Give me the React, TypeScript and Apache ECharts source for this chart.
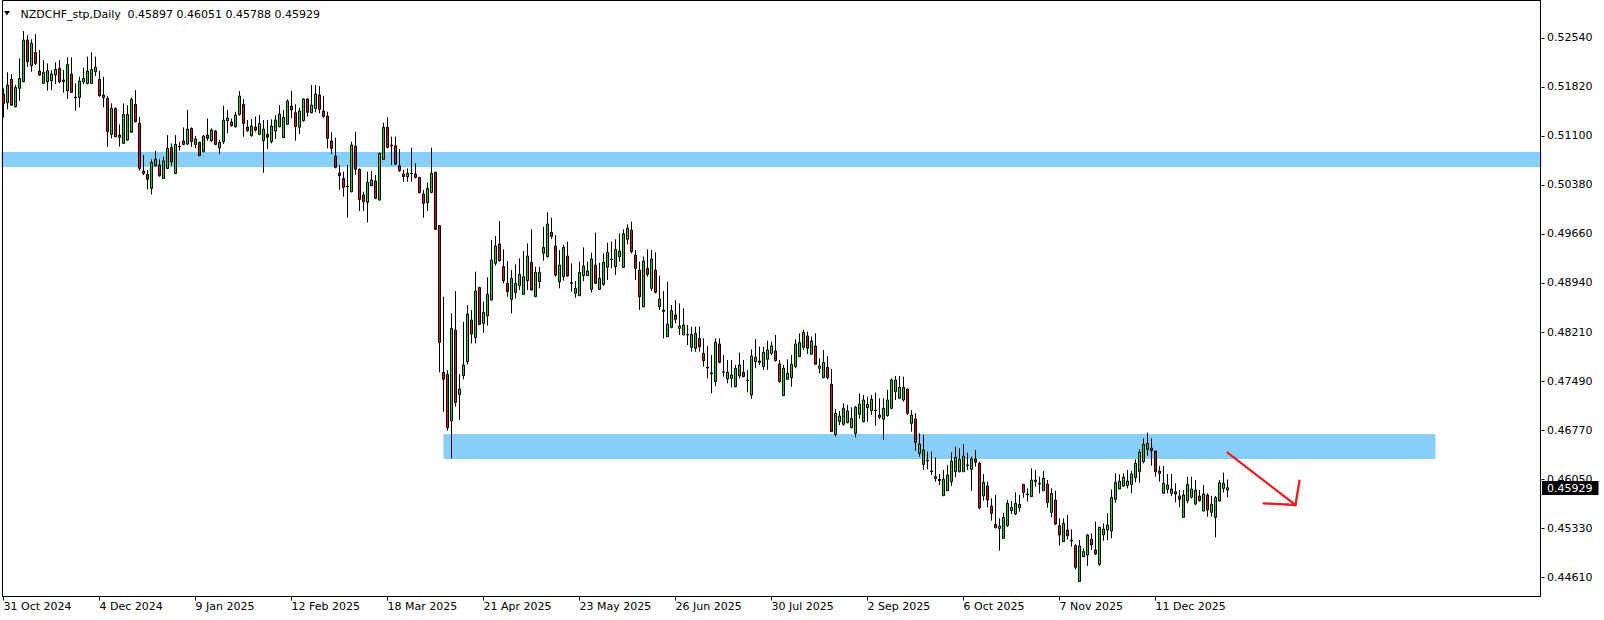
import React, { useEffect, useRef } from "react";
import * as echarts from "echarts";

// ---- Data ----
const opens = [
  0.51715,0.51588,0.51931,0.51529,0.51798,0.51896,0.52509,0.52132,0.52328,0.52053,
  0.51872,0.51896,0.51911,0.51994,0.52092,0.51921,0.51764,0.52009,0.51671,0.51666,
  0.51892,0.51872,0.51872,0.52043,0.51931,0.51700,0.51651,0.51122,0.51504,0.51112,
  0.50990,0.51039,0.51152,0.51563,0.51284,0.50583,0.50534,0.50328,0.50662,0.50671,
  0.50475,0.50622,0.50931,0.50549,0.50951,0.51024,0.50980,0.51210,0.50975,0.51005,
  0.50867,0.51112,0.51029,0.51171,0.50926,0.51014,0.51323,0.51304,0.51235,0.51416,
  0.51563,0.51230,0.51103,0.51230,0.51122,0.51030,0.51123,0.51015,0.51172,0.51235,
  0.51074,0.51270,0.51539,0.51441,0.51226,0.51324,0.51642,0.51441,0.51505,0.51701,
  0.51466,0.51392,0.51025,0.50804,0.50554,0.50476,0.50363,0.50280,0.50951,0.50608,
  0.50231,0.50123,0.50368,0.50437,0.50158,0.50755,0.51226,0.50966,0.50956,0.50662,
  0.50540,0.50500,0.50545,0.50540,0.50491,0.50246,0.50118,0.50270,0.50564,0.49781,
  0.47625,0.47595,0.46914,0.48247,0.47301,0.47576,0.47781,0.48394,0.48139,0.48874,
  0.48345,0.48453,0.48688,0.49227,0.49511,0.49178,0.48933,0.48698,0.48801,0.48899,
  0.48772,0.48972,0.49242,0.48737,0.48958,0.49374,0.49325,0.49683,0.49482,0.48958,
  0.49031,0.49335,0.48943,0.48786,0.48752,0.49046,0.49046,0.48845,0.49203,0.48845,
  0.48918,0.49168,0.49291,0.49178,0.49325,0.49168,0.49580,0.49717,0.49350,0.49129,
  0.48590,0.49154,0.48860,0.49129,0.48590,0.48541,0.48149,0.48286,0.48468,0.48272,
  0.48174,0.48183,0.47992,0.47978,0.48124,0.47905,0.47699,0.47616,0.47489,0.48042,
  0.47635,0.47528,0.47538,0.47415,0.47572,0.47626,0.47513,0.47293,0.47782,0.47792,
  0.47709,0.47817,0.47905,0.47939,0.47748,0.47283,0.47523,0.47547,0.47709,0.47856,
  0.47993,0.48160,0.47890,0.48013,0.47685,0.47547,0.47699,0.47449,0.46714,0.46900,
  0.46861,0.46886,0.46812,0.46729,0.47008,0.46900,0.47106,0.47062,0.47072,0.46998,
  0.46935,0.46989,0.47097,0.47341,0.47244,0.47219,0.47376,0.46876,0.46940,0.46435,
  0.46273,0.46332,0.46175,0.46092,0.46053,0.45813,0.45886,0.46019,0.46165,0.46165,
  0.46165,0.46264,0.46200,0.46352,0.46288,0.45808,0.45955,0.45661,0.45391,0.45332,
  0.45185,0.45372,0.45592,0.45543,0.45636,0.45979,0.45837,0.45798,0.46043,0.45994,
  0.45886,0.45984,0.45568,0.45749,0.45372,0.45137,0.45308,0.45161,0.45080,0.44550,
  0.44916,0.44941,0.45172,0.45015,0.44804,0.45235,0.45308,0.45293,0.45759,0.45911,
  0.45955,0.45960,0.45979,0.46077,0.46165,0.46313,0.46494,0.46513,0.46469,0.46141,
  0.45847,0.45906,0.45847,0.45872,0.45808,0.45494,0.45739,0.45788,0.45690,0.45808,
  0.45587,0.45822,0.45568,0.45494,0.45734,0.45920,0.45897,
];

const highs = [
  0.51798,0.52034,0.52009,0.51847,0.52239,0.52641,0.52582,0.52519,0.52597,0.52362,
  0.52215,0.52166,0.52068,0.52181,0.52215,0.52068,0.52254,0.52254,0.51872,0.51970,
  0.52107,0.52264,0.52328,0.52264,0.52058,0.51970,0.51686,0.51578,0.51519,0.51269,
  0.51578,0.51553,0.51666,0.51774,0.51382,0.50818,0.50598,0.50755,0.50877,0.50755,
  0.50794,0.51112,0.50990,0.51112,0.51014,0.51225,0.51480,0.51225,0.51098,0.51014,
  0.51112,0.51357,0.51210,0.51186,0.51039,0.51544,0.51480,0.51357,0.51455,0.51759,
  0.51642,0.51333,0.51348,0.51382,0.51406,0.51334,0.51334,0.51343,0.51407,0.51554,
  0.51481,0.51637,0.51765,0.51564,0.51515,0.51652,0.51652,0.51848,0.51848,0.51833,
  0.51686,0.51456,0.51152,0.51074,0.50672,0.50574,0.50672,0.51015,0.51162,0.50623,
  0.50280,0.50574,0.50584,0.50525,0.50853,0.51294,0.51373,0.51089,0.51089,0.50907,
  0.50599,0.50623,0.50927,0.50697,0.50495,0.50305,0.50412,0.50927,0.50574,0.49790,
  0.48737,0.47659,0.48492,0.48820,0.47600,0.48369,0.48614,0.48541,0.49104,0.48880,
  0.48664,0.49021,0.49570,0.49629,0.49849,0.49433,0.49261,0.49129,0.49212,0.49301,
  0.49408,0.49521,0.49727,0.49178,0.49178,0.49766,0.49977,0.49898,0.49643,0.49423,
  0.49497,0.49546,0.49227,0.48967,0.49252,0.49462,0.49252,0.49384,0.49678,0.49237,
  0.49374,0.49531,0.49546,0.49580,0.49668,0.49727,0.49800,0.49840,0.49423,0.49252,
  0.49325,0.49433,0.49423,0.49389,0.49046,0.48821,0.48958,0.48615,0.48688,0.48639,
  0.48566,0.48321,0.48296,0.48296,0.48296,0.48125,0.48013,0.47880,0.48125,0.48125,
  0.47880,0.47807,0.47807,0.47734,0.47915,0.47807,0.47660,0.47964,0.48111,0.48003,
  0.48003,0.48091,0.48076,0.48175,0.47807,0.47734,0.47817,0.47880,0.48111,0.48199,
  0.48248,0.48223,0.48150,0.48199,0.47832,0.47954,0.47866,0.47675,0.47087,0.47057,
  0.47170,0.47146,0.47111,0.47131,0.47317,0.47293,0.47268,0.47293,0.47327,0.47244,
  0.47244,0.47366,0.47538,0.47572,0.47572,0.47562,0.47391,0.47072,0.47023,0.46729,
  0.46705,0.46460,0.46460,0.46376,0.46131,0.46190,0.46264,0.46450,0.46533,0.46509,
  0.46572,0.46445,0.46386,0.46484,0.46313,0.46131,0.46019,0.45774,0.45823,0.45480,
  0.45563,0.45749,0.45734,0.45862,0.45823,0.45979,0.45920,0.46215,0.46190,0.46092,
  0.46175,0.46043,0.45920,0.45886,0.45480,0.45480,0.45529,0.45318,0.45098,0.45162,
  0.45039,0.45250,0.45259,0.45431,0.45357,0.45406,0.45553,0.45906,0.46141,0.46126,
  0.46141,0.46190,0.46175,0.46347,0.46494,0.46655,0.46739,0.46655,0.46474,0.46249,
  0.46249,0.46131,0.46131,0.45994,0.45896,0.45896,0.46092,0.46092,0.46043,0.45896,
  0.45970,0.45847,0.45808,0.45808,0.46043,0.46151,0.46051,
];

const lows = [
  0.51367,0.51490,0.51539,0.51519,0.51617,0.51890,0.52117,0.52043,0.52141,0.51985,
  0.51862,0.51764,0.51774,0.51862,0.51872,0.51735,0.51642,0.51735,0.51470,0.51519,
  0.51862,0.51857,0.51862,0.51980,0.51676,0.51519,0.50941,0.51063,0.51078,0.50941,
  0.50980,0.51029,0.51147,0.51299,0.50588,0.50524,0.50314,0.50240,0.50647,0.50500,
  0.50466,0.50613,0.50662,0.50539,0.50882,0.50965,0.50965,0.50941,0.50916,0.50804,
  0.50858,0.51029,0.51014,0.50965,0.50833,0.50980,0.51137,0.51235,0.51220,0.51397,
  0.51088,0.51161,0.51088,0.51161,0.51112,0.50559,0.50907,0.50990,0.51054,0.51226,
  0.51069,0.51260,0.51358,0.51030,0.51128,0.51309,0.51383,0.51432,0.51446,0.51432,
  0.51368,0.50917,0.50834,0.50623,0.50305,0.50207,0.49898,0.50270,0.50525,0.49996,
  0.49996,0.49829,0.50363,0.50172,0.50148,0.50746,0.50917,0.50672,0.50672,0.50574,
  0.50427,0.50427,0.50427,0.50476,0.50256,0.49898,0.49996,0.50256,0.49717,0.47625,
  0.47046,0.46767,0.46360,0.47120,0.46924,0.47522,0.47742,0.48051,0.48051,0.48320,
  0.48208,0.48311,0.48678,0.49193,0.49252,0.48933,0.48737,0.48492,0.48713,0.48835,
  0.48762,0.48835,0.48825,0.48737,0.48860,0.49266,0.49315,0.49585,0.49031,0.48860,
  0.48972,0.49031,0.48811,0.48722,0.48752,0.48967,0.49046,0.48801,0.48923,0.48835,
  0.48899,0.48982,0.49154,0.49056,0.49252,0.49168,0.49506,0.49374,0.48982,0.48541,
  0.48580,0.49031,0.48825,0.48786,0.48541,0.48124,0.48149,0.48272,0.48345,0.48174,
  0.48174,0.48027,0.47929,0.47929,0.47929,0.47709,0.47538,0.47317,0.47425,0.47758,
  0.47562,0.47464,0.47405,0.47405,0.47538,0.47552,0.47332,0.47234,0.47685,0.47734,
  0.47660,0.47660,0.47880,0.47783,0.47474,0.47283,0.47513,0.47415,0.47685,0.47856,
  0.47954,0.47895,0.47890,0.47743,0.47611,0.47538,0.47523,0.46754,0.46680,0.46851,
  0.46842,0.46876,0.46803,0.46670,0.46949,0.46891,0.46900,0.46998,0.46842,0.46939,
  0.46631,0.46974,0.47082,0.47219,0.47234,0.47194,0.46998,0.46754,0.46474,0.46386,
  0.46190,0.46200,0.46117,0.46019,0.45970,0.45813,0.45886,0.45955,0.46082,0.46156,
  0.46165,0.46190,0.45886,0.46239,0.45612,0.45739,0.45641,0.45445,0.45332,0.45004,
  0.45185,0.45357,0.45543,0.45528,0.45577,0.45783,0.45725,0.45798,0.45945,0.45847,
  0.45886,0.45636,0.45494,0.45382,0.45078,0.45137,0.45171,0.45063,0.44731,0.44550,
  0.44910,0.44780,0.45015,0.44942,0.44780,0.45151,0.45161,0.45186,0.45710,0.45911,
  0.45945,0.45920,0.45847,0.46009,0.46004,0.46288,0.46401,0.46254,0.46092,0.46019,
  0.45847,0.45847,0.45808,0.45715,0.45641,0.45494,0.45700,0.45773,0.45676,0.45725,
  0.45587,0.45504,0.45504,0.45200,0.45725,0.45857,0.45788,
];

const closes = [
  0.51578,0.51847,0.51553,0.51813,0.51945,0.52509,0.52190,0.52460,0.52166,0.51994,
  0.52034,0.52058,0.52009,0.52078,0.51896,0.51900,0.52151,0.51740,0.51661,0.51906,
  0.51945,0.52053,0.52078,0.52107,0.51691,0.51661,0.51161,0.51504,0.51088,0.51078,
  0.51416,0.51416,0.51637,0.51308,0.50622,0.50549,0.50461,0.50711,0.50755,0.50515,
  0.50730,0.50916,0.50720,0.50975,0.50941,0.50975,0.51201,0.51014,0.51054,0.50809,
  0.51098,0.51063,0.51186,0.50975,0.51005,0.51333,0.51362,0.51250,0.51406,0.51686,
  0.51284,0.51176,0.51245,0.51186,0.51284,0.51201,0.51079,0.51245,0.51334,0.51422,
  0.51373,0.51613,0.51481,0.51236,0.51466,0.51642,0.51446,0.51554,0.51716,0.51490,
  0.51383,0.51064,0.50917,0.50638,0.50515,0.50344,0.50354,0.50966,0.50608,0.50167,
  0.50133,0.50417,0.50452,0.50182,0.50844,0.51226,0.50932,0.50956,0.50687,0.50589,
  0.50500,0.50550,0.50550,0.50491,0.50265,0.50109,0.50329,0.50550,0.49727,0.48066,
  0.47522,0.46811,0.48272,0.47184,0.47380,0.47732,0.48482,0.48188,0.48820,0.48330,
  0.48507,0.48771,0.49276,0.49482,0.49266,0.48972,0.48811,0.49006,0.48933,0.49065,
  0.49031,0.49335,0.48835,0.49095,0.49095,0.49462,0.49805,0.49619,0.49055,0.49202,
  0.49462,0.49041,0.48933,0.48860,0.49095,0.49188,0.49114,0.49291,0.48933,0.49007,
  0.49242,0.49389,0.49281,0.49433,0.49408,0.49658,0.49742,0.49399,0.49154,0.48737,
  0.49261,0.49065,0.49291,0.48801,0.48703,0.48521,0.48335,0.48531,0.48404,0.48306,
  0.48321,0.48174,0.48183,0.48198,0.48002,0.47797,0.47689,0.47606,0.48067,0.47773,
  0.47626,0.47626,0.47587,0.47685,0.47734,0.47562,0.47503,0.47866,0.47846,0.47773,
  0.47920,0.47954,0.48013,0.47797,0.47489,0.47685,0.47611,0.47743,0.48042,0.48062,
  0.48214,0.47978,0.48086,0.47743,0.47719,0.47773,0.47547,0.46754,0.47023,0.46984,
  0.47097,0.47057,0.46950,0.47111,0.47156,0.47219,0.47156,0.47229,0.47062,0.46964,
  0.47097,0.47219,0.47513,0.47513,0.47405,0.47405,0.47023,0.46998,0.46597,0.46572,
  0.46484,0.46322,0.46165,0.46063,0.46033,0.46053,0.46117,0.46322,0.46376,0.46347,
  0.46396,0.46254,0.46352,0.46303,0.45636,0.46009,0.45749,0.45553,0.45342,0.45367,
  0.45494,0.45700,0.45641,0.45700,0.45685,0.45862,0.45827,0.46043,0.46019,0.45984,
  0.46068,0.45710,0.45847,0.45396,0.45234,0.45406,0.45225,0.45146,0.44760,0.45074,
  0.44990,0.45235,0.45089,0.44956,0.45347,0.45323,0.45382,0.45788,0.46009,0.46028,
  0.46082,0.46028,0.46131,0.46288,0.46450,0.46567,0.46582,0.46474,0.46165,0.46175,
  0.45994,0.45970,0.45911,0.45837,0.45759,0.45822,0.45979,0.45911,0.45896,0.45739,
  0.45837,0.45602,0.45685,0.45788,0.46004,0.45994,0.45929,
];

// date labels, one every 24 bars starting at bar 0
const dateLabels = [
  "31 Oct 2024", "4 Dec 2024", "9 Jan 2025", "12 Feb 2025", "18 Mar 2025",
  "21 Apr 2025", "23 May 2025", "26 Jun 2025", "30 Jul 2025", "2 Sep 2025",
  "6 Oct 2025", "7 Nov 2025", "11 Dec 2025",
];
const LABEL_EVERY = 24;

// price scale labels
const priceTicks = [
  0.52540, 0.51820, 0.51100, 0.50380, 0.49660, 0.48940,
  0.48210, 0.47490, 0.46770, 0.46050, 0.45330, 0.44610,
];

// supply / demand zones: [startBar, endBar, topPrice, bottomPrice]
const zoneStartBars = [-10, 110];
const zoneEndBars = [400, 358];
const zoneTops = [0.50863, 0.46719];
const zoneBottoms = [0.50643, 0.46352];

// hand-drawn arrow segments: [bar, price, bar, price]
const arrowSegments = [
  [306.45, 0.46445, 322.7, 0.45676],
  [314.95, 0.45701, 322.7, 0.45676],
  [322.7, 0.45676, 323.55, 0.46033],
];

const SYMBOL = "NZDCHF_stp,Daily";
const SLOTS = 385; // bar slots across the chart width (incl. empty future space)
const Y_MIN = 0.44331;
const Y_MAX = 0.53068;

const GREEN = "#22cc22";
const RED = "#d81414";
const ZONE = "#87cefa";
const ARROW = "#ee1c24";
const FONT = "DejaVu Sans";

export default function App() {
  const ref = useRef<HTMLDivElement>(null);

  useEffect(() => {
    if (!ref.current) return;
    const chart = echarts.init(ref.current, null, { renderer: "svg" });
    const last = opens.length - 1;
    const categories = Array.from({ length: SLOTS }, (_, i) => String(i));
    const candles = opens.map((o, i) => [o, closes[i], lows[i], highs[i]]);
    const zones = zoneStartBars.map((s, i) => [s, zoneEndBars[i], zoneTops[i], zoneBottoms[i]]);
    const showLabel = (i: number) => i % LABEL_EVERY === 0 && i / LABEL_EVERY < dateLabels.length;
    const header = `${opens[last].toFixed(5)} ${highs[last].toFixed(5)} ${lows[last].toFixed(5)} ${closes[last].toFixed(5)}`;

    chart.setOption({
      animation: false,
      backgroundColor: "#ffffff",
      textStyle: { fontFamily: FONT },
      grid: { left: 1.5, top: 2, width: 1540, height: 594.5, show: false, containLabel: false, outerBoundsMode: "none" },
      xAxis: {
        type: "category",
        data: categories,
        boundaryGap: true,
        axisLine: { show: false },
        axisTick: { show: true, alignWithLabel: true, interval: (i: number) => showLabel(i), length: 4, lineStyle: { color: "#000", width: 1 } },
        axisLabel: {
          interval: (i: number) => showLabel(i),
          formatter: (_v: string, i: number) => dateLabels[i / LABEL_EVERY] ?? "",
          align: "left",
          margin: 4,
          color: "#000",
          fontSize: 11,
          fontFamily: FONT,
          hideOverlap: false,
        },
        splitLine: { show: false },
      },
      yAxis: {
        type: "value",
        position: "right",
        min: Y_MIN,
        max: Y_MAX,
        axisLine: { show: false },
        splitLine: { show: false },
        axisTick: { show: true, customValues: priceTicks, length: 3, lineStyle: { color: "#000", width: 1 } },
        axisLabel: {
          customValues: priceTicks,
          formatter: (v: number) => v.toFixed(5),
          margin: 5.5,
          color: "#000",
          fontSize: 11,
          fontFamily: FONT,
        },
      },
      series: [
        {
          type: "custom",
          name: "zones",
          silent: true,
          z: 1,
          encode: { x: 0, y: 2 },
          data: zones,
          renderItem: (params: any, api: any) => {
            const cs = params.coordSys;
            const p0 = api.coord([api.value(0), api.value(2)]);
            const p1 = api.coord([api.value(1), api.value(3)]);
            const x0 = Math.max(p0[0], cs.x);
            const x1 = Math.min(p1[0], cs.x + cs.width);
            return {
              type: "rect",
              shape: { x: x0, y: p0[1], width: x1 - x0, height: p1[1] - p0[1] },
              style: { fill: ZONE },
            };
          },
        },
        {
          type: "candlestick",
          data: candles,
          barWidth: 2,
          z: 3,
          itemStyle: {
            color: GREEN,
            color0: RED,
            borderColor: "#000",
            borderColor0: "#000",
            borderColorDoji: "#000",
            borderWidth: 1,
          },
        },
        {
          type: "custom",
          name: "arrow",
          silent: true,
          z: 4,
          encode: { x: 0, y: 1 },
          data: arrowSegments,
          renderItem: (_params: any, api: any) => {
            const a = api.coord([api.value(0), api.value(1)]);
            const b = api.coord([api.value(2), api.value(3)]);
            return {
              type: "line",
              shape: { x1: a[0], y1: a[1], x2: b[0], y2: b[1] },
              style: { stroke: ARROW, lineWidth: 2.3, lineCap: "round" },
            };
          },
        },
        {
          type: "custom",
          name: "lastPrice",
          silent: true,
          z: 5,
          encode: { x: 0, y: 1 },
          data: [[last, closes[last]]],
          renderItem: (params: any, api: any) => {
            const cs = params.coordSys;
            const p = api.coord([api.value(0), api.value(1)]);
            const x = cs.x + cs.width + 0.5;
            return {
              type: "group",
              children: [
                { type: "rect", shape: { x, y: Math.round(p[1]) - 7, width: 56.5, height: 14 }, style: { fill: "#000" } },
                {
                  type: "text",
                  style: {
                    x: x + 5,
                    y: Math.round(p[1]),
                    text: closes[last].toFixed(5),
                    fill: "#fff",
                    fontSize: 11,
                    fontFamily: FONT,
                    verticalAlign: "middle",
                    align: "left",
                  },
                },
              ],
            };
          },
        },
      ],
      graphic: [
        { type: "line", z: 10, shape: { x1: 2.5, y1: 0, x2: 2.5, y2: 597 }, style: { stroke: "#000", lineWidth: 1 } },
        { type: "line", z: 10, shape: { x1: 1540.5, y1: 0, x2: 1540.5, y2: 597 }, style: { stroke: "#000", lineWidth: 1 } },
        { type: "line", z: 10, shape: { x1: 2, y1: 596.5, x2: 1541, y2: 596.5 }, style: { stroke: "#000", lineWidth: 1 } },
        { type: "line", z: 10, shape: { x1: 2, y1: 0.5, x2: 1541, y2: 0.5 }, style: { stroke: "#000", lineWidth: 1 } },
        { type: "polygon", z: 10, shape: { points: [[4, 11], [10, 11], [7, 15.5]] }, style: { fill: "#000" } },
        { type: "text", z: 10, x: 20.5, y: 14, style: { text: SYMBOL, fill: "#000", fontSize: 11, fontFamily: FONT, verticalAlign: "middle" } },
        { type: "text", z: 10, x: 127.5, y: 14, style: { text: header, fill: "#000", fontSize: 11, fontFamily: FONT, verticalAlign: "middle" } },
      ],
    });

    return () => chart.dispose();
  }, []);

  return (
    <div
      ref={ref}
      style={{ position: "fixed", left: 0, top: 0, width: 1604, height: 620, background: "#fff" }}
    />
  );
}
